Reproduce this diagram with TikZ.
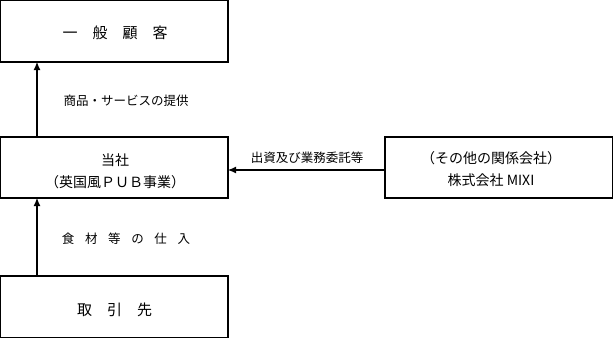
\documentclass[tikz,border=0pt]{standalone}
\usepackage{fontspec}
\setmainfont{Noto Sans CJK JP}
\usetikzlibrary{arrows.meta}
\tikzset{
  box/.style={draw, line width=1.1pt, rectangle, outer sep=0pt, inner sep=0pt},
  btext/.style={inner sep=0pt, align=center, font=\fontsize{14pt}{22pt}\selectfont},
  conn/.style={line width=1.1pt, -{Latex[length=8pt,width=7pt]}},
  lbl/.style={inner sep=0pt, font=\fontsize{12.5pt}{15pt}\selectfont}
}
\begin{document}
\begin{tikzpicture}[x=1pt,y=-1pt]
\useasboundingbox (0,0) rectangle (613,338);
\node[box, minimum width=227.4pt, minimum height=61.4pt] (top) at (114.3,31.3) {};
\node[box, minimum width=227.4pt, minimum height=61pt] (mid) at (114.3,167.5) {};
\node[box, minimum width=227.4pt, minimum height=61.4pt] (bot) at (114.3,306.7) {};
\node[box, minimum width=227.4pt, minimum height=61pt] (rb) at (498.7,167.5) {};
\node[btext, font=\fontsize{15pt}{18pt}\selectfont] (toptext) at (115,32.5) {一　般　顧　客};
\node[btext] (midtext) at (115,171) {当社\\（英国風ＰＵＢ事業）};
\node[btext, font=\fontsize{15pt}{18pt}\selectfont] (bottext) at (114.5,309.5) {取　引　先};
\node[btext] (rbtext) at (491,169) {（その他の関係会社）\\株式会社 MIXI};
\node[lbl] (l1) at (126,101) {商品・サービスの提供};
\node[lbl] (l2) at (307,158) {出資及び業務委託等};
\node[lbl] (l3) at (126,238.5) {食\hspace{0.85em}材\hspace{0.85em}等\hspace{0.85em}の\hspace{0.85em}仕\hspace{0.85em}入};
\draw[conn] (mid.north -| 37,0) -- (top.south -| 37,0);
\draw[conn] (bot.north -| 37,0) -- (mid.south -| 37,0);
\draw[conn] ([yshift=-2.5pt]rb.west) -- ([yshift=-2.5pt]mid.east);
\end{tikzpicture}
\end{document}
